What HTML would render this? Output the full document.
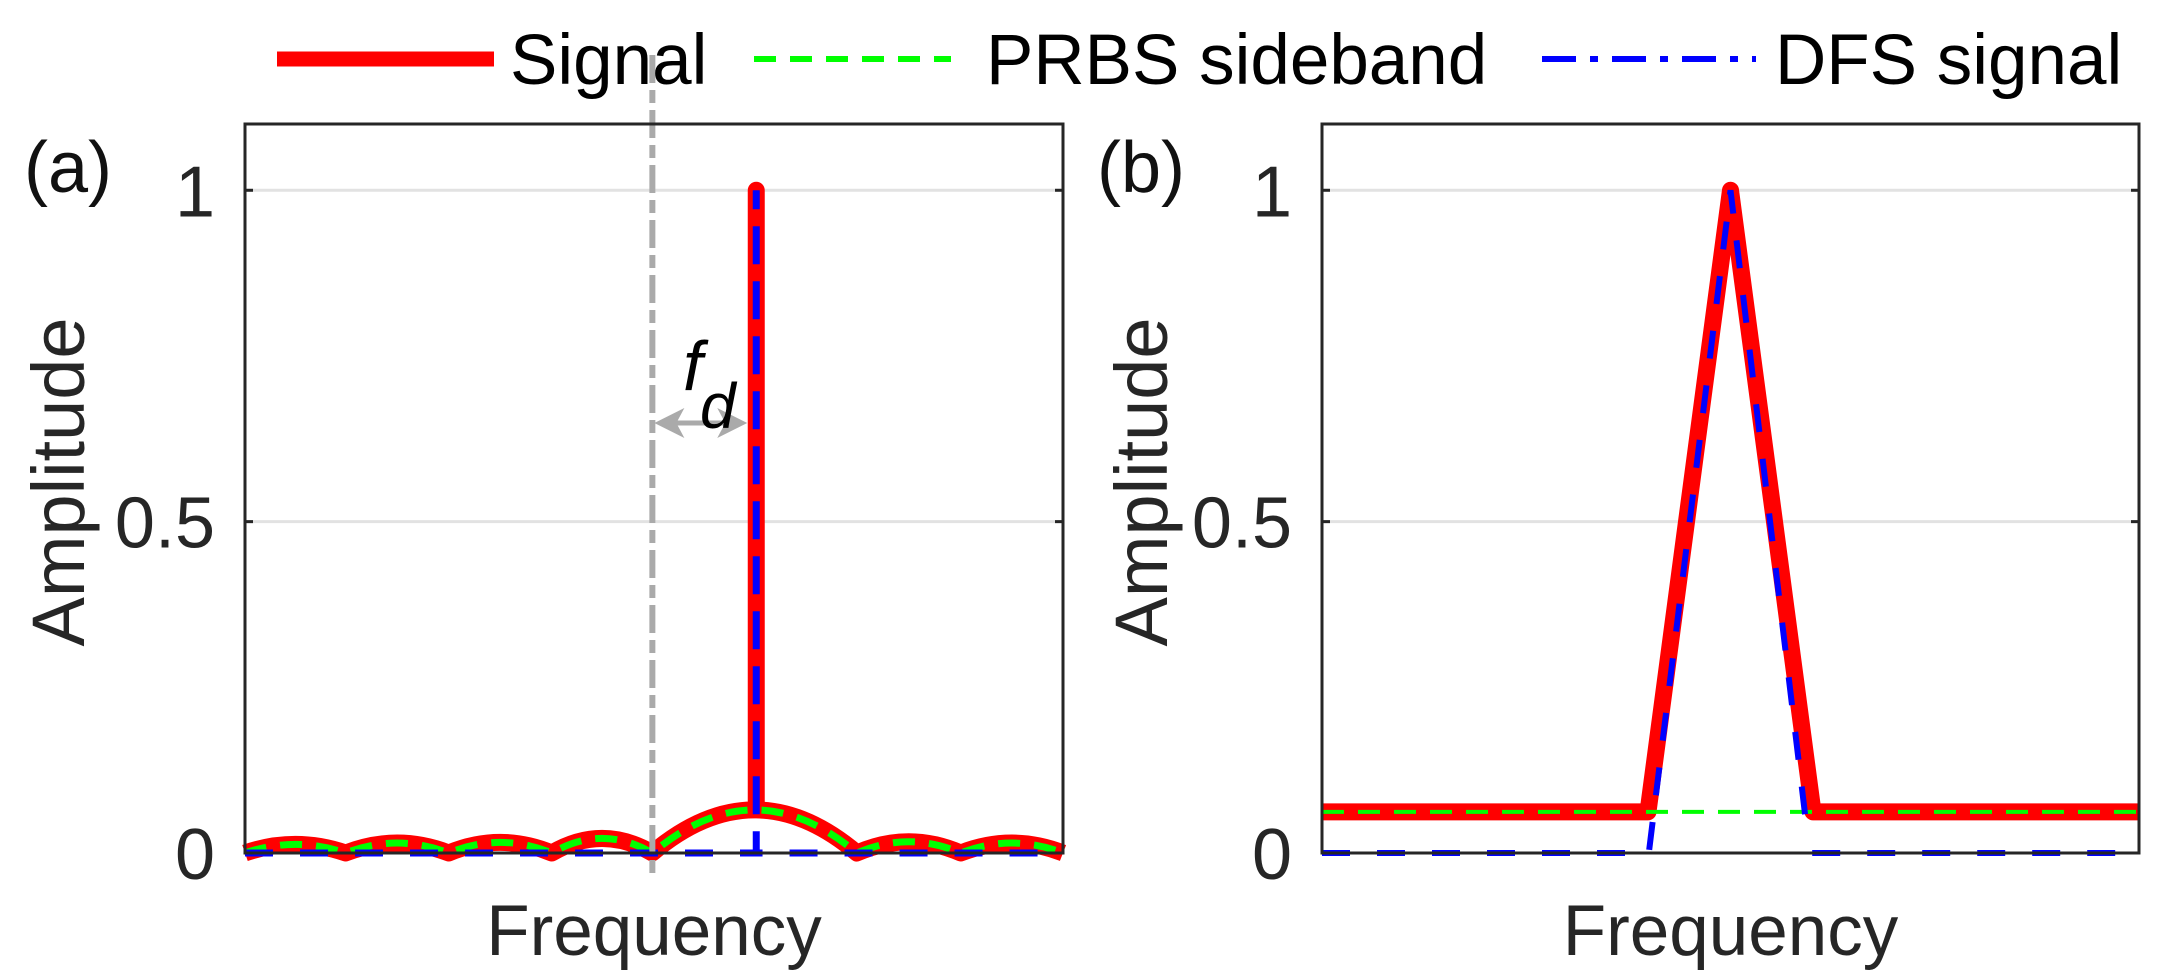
<!DOCTYPE html>
<html><head><meta charset="utf-8"><style>
html,body{margin:0;padding:0;background:#fff;}
svg{display:block;font-family:"Liberation Sans",Arial,sans-serif;}
</style></head><body>
<svg id="chart" width="2157" height="974" viewBox="0 0 2157 974" xmlns="http://www.w3.org/2000/svg">
<g id="bg"></g>
<g id="plots"></g>
<g id="fg"></g>
</svg>
<script>
// ---- data (panel a) ----
const lobeEdgesA = [0, 0.123, 0.249, 0.375, 0.498, 0.748, 0.875, 1.0];
const lobePeaksA = [0.013, 0.015, 0.016, 0.022, 0.065, 0.017, 0.015];
const spikeXA = 0.625;
const spikeYA = 1.0;
// ---- data (panel b) ----
const signalXB = [0, 0.399, 0.5, 0.601, 1.0];
const signalYB = [0.062, 0.062, 1.0, 0.062, 0.062];
const prbsXB = [0, 1.0];
const prbsYB = [0.062, 0.062];
const dfsXB = [0, 0.4, 0.5, 0.594];
const dfsYB = [0, 0, 1.0, 0.03];
const dfsTailXB = [0.6, 1.0];
const dfsTailYB = [0, 0];
const yTicks = [0, 0.5, 1];
const yTickLabels = ["0", "0.5", "1"];
const markerXA = 0.498;

const NS = "http://www.w3.org/2000/svg";
function mk(tag, attrs, parent) {
  const e = document.createElementNS(NS, tag);
  for (const k in attrs) e.setAttribute(k, attrs[k]);
  parent.appendChild(e);
  return e;
}
const panels = [{x0: 245, x1: 1063, label: "(a)", lx: 68, alx: 58}, {x0: 1322, x1: 2139, label: "(b)", lx: 1141, alx: 1141}];
const yTop = 124, yBot = 853, yMax = 1.1;
function Y(v) { return yBot - v / yMax * (yBot - yTop); }
function X(p, v) { return p.x0 + v * (p.x1 - p.x0); }

const bg = document.getElementById('bg'), plots = document.getElementById('plots'), fg = document.getElementById('fg');

panels.forEach((p, pi) => {
  const r = mk('rect', {x: p.x0, y: yTop, width: p.x1 - p.x0, height: yBot - yTop, fill: '#fff', stroke: 'none'}, bg);
  
  
  yTicks.forEach((t, i) => {
    if (t > 0) {
      const g = mk('line', {x1: p.x0, x2: p.x1, y1: Y(t), y2: Y(t), stroke: '#e2e2e2', 'stroke-width': 3}, bg);
      
      
    }
    const tk = mk('line', {x1: p.x1 - 8, x2: p.x1, y1: Y(t), y2: Y(t), stroke: '#262626', 'stroke-width': 3}, fg);
    
    
    const tk2 = mk('line', {x1: p.x0, x2: p.x0 + 8, y1: Y(t), y2: Y(t), stroke: '#262626', 'stroke-width': 3}, fg);
    
    
    const tl = mk('text', {x: p.x0 - 30, y: Y(t) + 26, 'text-anchor': 'end', 'font-size': 72, fill: '#262626'}, fg);
    tl.textContent = yTickLabels[i];
    
    
  });
  const ax = mk('text', {x: (p.x0 + p.x1) / 2, y: 955, 'text-anchor': 'middle', 'font-size': 71, fill: '#262626'}, fg);
  ax.textContent = 'Frequency';
  
  
  const ay = mk('text', {x: p.alx + 26, y: 482, 'text-anchor': 'middle', 'font-size': 74, fill: '#262626', transform: 'rotate(-90 ' + (p.alx + 26) + ' 482)'}, fg);
  ay.textContent = 'Amplitude';
  
  
  const pl = mk('text', {x: p.lx, y: 192, 'text-anchor': 'middle', 'font-size': 72, fill: '#111'}, fg);
  pl.textContent = p.label;
  
  
  const bx = mk('rect', {x: p.x0, y: yTop, width: p.x1 - p.x0, height: yBot - yTop, fill: 'none', stroke: '#262626', 'stroke-width': 3}, fg);
  
  
});

// panel a sinc path
const pA = panels[0];
function lobePath(withSpike) {
  let d = 'M' + X(pA, lobeEdgesA[0]) + ',' + Y(0);
  for (let i = 0; i < lobePeaksA.length; i++) {
    const a = lobeEdgesA[i], b = lobeEdgesA[i + 1], m = (a + b) / 2;
    if (withSpike && spikeXA > a && spikeXA < b) {
      const t = (spikeXA - a) / (b - a);
      const yy = lobePeaksA[i] * 4 * t * (1 - t);
      d += ' Q' + X(pA, a + (spikeXA - a) / 2) + ',' + Y(lobePeaksA[i] * 2 * t) + ' ' + X(pA, spikeXA) + ',' + Y(yy);
      d += ' L' + X(pA, spikeXA) + ',' + Y(spikeYA) + ' L' + X(pA, spikeXA) + ',' + Y(yy);
      d += ' Q' + X(pA, spikeXA + (b - spikeXA) / 2) + ',' + Y(lobePeaksA[i] * 2 * (1 - t)) + ' ' + X(pA, b) + ',' + Y(0);
    } else {
      d += ' Q' + X(pA, m) + ',' + Y(lobePeaksA[i] * 2) + ' ' + X(pA, b) + ',' + Y(0);
    }
  }
  return d;
}
const sigA = mk('path', {d: lobePath(true), fill: 'none', stroke: '#ff0000', 'stroke-width': 17, 'stroke-linejoin': 'round'}, plots);


const prA = mk('path', {d: lobePath(false), fill: 'none', stroke: '#00ff00', 'stroke-width': 7, 'stroke-dasharray': '22 14'}, plots);


const dfA = mk('path', {d: 'M' + X(pA, 0) + ',' + Y(0) + ' L' + X(pA, spikeXA) + ',' + Y(0) + ' L' + X(pA, spikeXA) + ',' + Y(spikeYA) + ' L' + X(pA, spikeXA) + ',' + Y(0) + ' L' + X(pA, 1) + ',' + Y(0), fill: 'none', stroke: '#0000ff', 'stroke-width': 7, 'stroke-dasharray': '28 27'}, plots);


const mkLine = mk('line', {x1: X(pA, markerXA), x2: X(pA, markerXA), y1: 55, y2: 873, stroke: '#aaaaaa', 'stroke-width': 6, 'stroke-dasharray': '28 7 13 7'}, plots);


// fd arrow
const arr = mk('g', {}, fg);


const ax1 = X(pA, markerXA) + 2, ax2 = X(pA, spikeXA) - 9;
mk('line', {x1: ax1 + 20, x2: ax2 - 20, y1: 423, y2: 423, stroke: '#aaaaaa', 'stroke-width': 5}, arr);
mk('polygon', {points: ax1 + ',423 ' + (ax1 + 30) + ',408 ' + (ax1 + 22) + ',423 ' + (ax1 + 30) + ',438', fill: '#aaaaaa'}, arr);
mk('polygon', {points: ax2 + ',423 ' + (ax2 - 30) + ',408 ' + (ax2 - 22) + ',423 ' + (ax2 - 30) + ',438', fill: '#aaaaaa'}, arr);
const fd = mk('text', {x: 683, y: 390, 'font-size': 70, 'font-style': 'italic', fill: '#000'}, fg);
fd.textContent = 'f';


const fdd = mk('text', {x: 700, y: 428, 'font-size': 64, 'font-style': 'italic', fill: '#000'}, fg);
fdd.textContent = 'd';



// panel b
const pB = panels[1];
function poly(xs, ys) { return xs.map((v, i) => (i ? 'L' : 'M') + X(pB, v) + ',' + Y(ys[i])).join(' '); }
const sigB = mk('path', {d: poly(signalXB, signalYB), fill: 'none', stroke: '#ff0000', 'stroke-width': 17, 'stroke-linejoin': 'round'}, plots);


const prB = mk('path', {d: poly(prbsXB, prbsYB), fill: 'none', stroke: '#00ff00', 'stroke-width': 4, 'stroke-dasharray': '22 14'}, plots);


const dfB = mk('path', {d: poly(dfsXB, dfsYB), fill: 'none', stroke: '#0000ff', 'stroke-width': 6, 'stroke-dasharray': '28 27'}, plots);


const dfB2 = mk('path', {d: poly(dfsTailXB, dfsTailYB), fill: 'none', stroke: '#0000ff', 'stroke-width': 6, 'stroke-dasharray': '28 27'}, plots);



// legend
const lg = mk('g', {}, fg);


const l1 = mk('line', {x1: 277, x2: 494, y1: 59, y2: 59, stroke: '#ff0000', 'stroke-width': 15}, lg);


const t1 = mk('text', {x: 510, y: 84, 'font-size': 71, fill: '#000'}, lg);
t1.textContent = 'Signal';


const l2 = mk('line', {x1: 754, x2: 951, y1: 59, y2: 59, stroke: '#00ff00', 'stroke-width': 6, 'stroke-dasharray': '22 14'}, lg);


const t2 = mk('text', {x: 986, y: 84, 'font-size': 71, fill: '#000'}, lg);
t2.textContent = 'PRBS sideband';


const l3 = mk('line', {x1: 1542, x2: 1756, y1: 59, y2: 59, stroke: '#0000ff', 'stroke-width': 6, 'stroke-dasharray': '34 14 8 14'}, lg);


const t3 = mk('text', {x: 1775, y: 84, 'font-size': 71, fill: '#000'}, lg);
t3.textContent = 'DFS signal';


</script>
</body></html>
